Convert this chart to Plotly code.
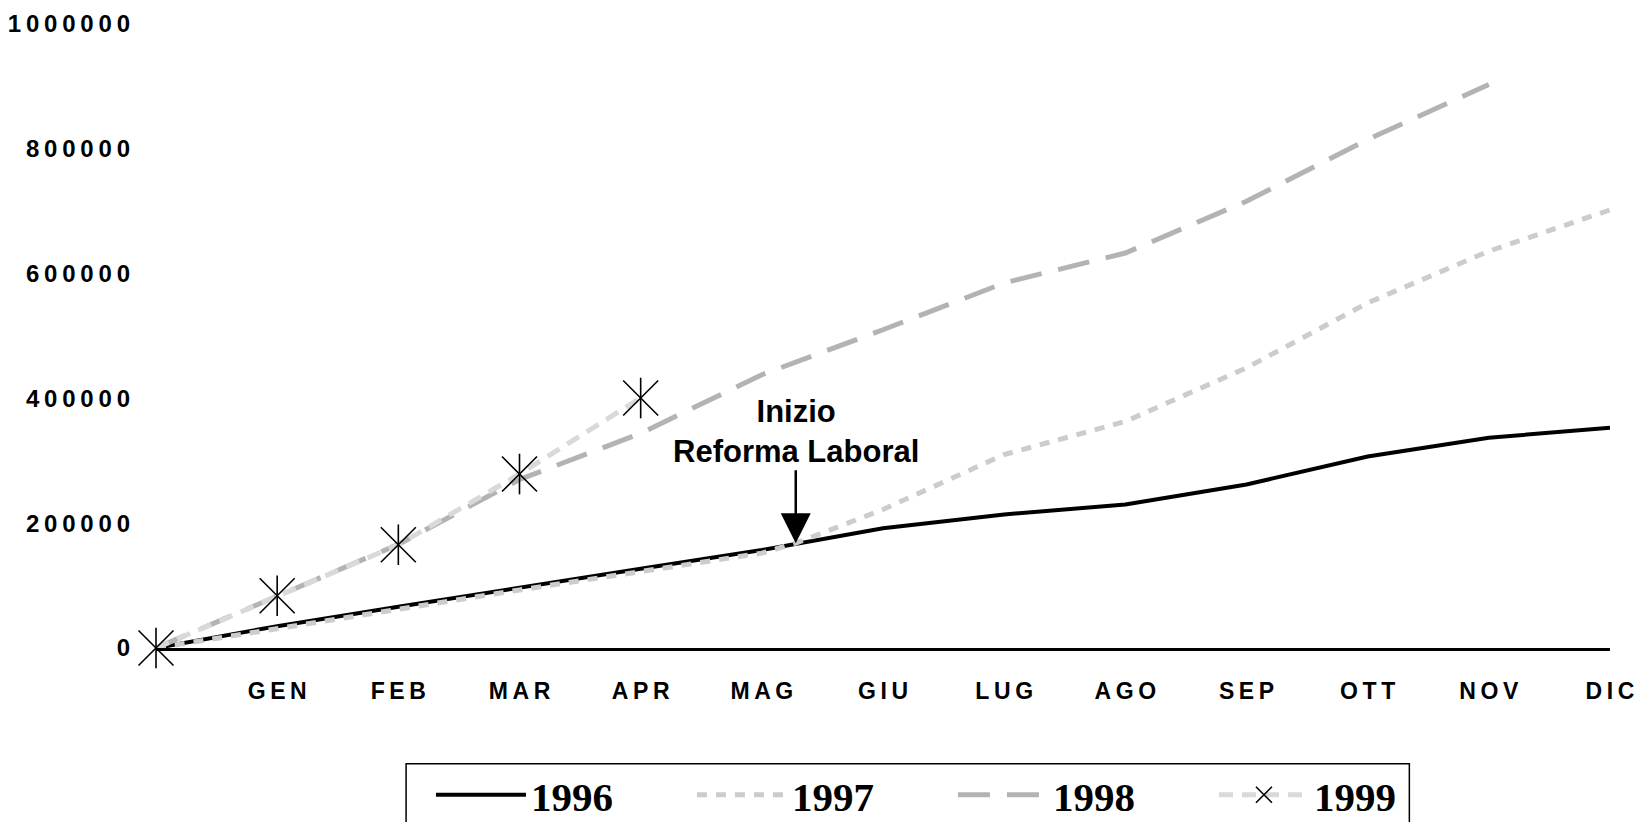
import plotly.graph_objects as go

# ---- data ----
month_labels = ["GEN", "FEB", "MAR", "APR", "MAG", "GIU", "LUG", "AGO", "SEP", "OTT", "NOV", "DIC"]
month_pos = [1, 2, 3, 4, 5, 6, 7, 8, 9, 10, 11, 12]

x1996 = [0, 1, 2, 3, 4, 5, 6, 7, 8, 9, 10, 11, 12]
v1996 = [0, 35000, 66000, 97000, 127000, 157000, 192000, 214000, 230000, 262000, 307000, 337000, 353000]

x1997 = [0, 1, 2, 3, 4, 5, 5.28, 6, 7, 8, 9, 10, 11, 12]
v1997 = [0, 32000, 62000, 93000, 123000, 152000, 168000, 222000, 310000, 363000, 449000, 553000, 636000, 702000]

x1998 = [0, 1, 2, 3, 4, 5, 6, 7, 8, 9, 10, 11]
v1998 = [0, 82000, 166000, 270000, 344000, 438000, 510000, 585000, 633000, 716000, 815000, 903000]

x1999 = [0, 1, 2, 3, 4]
v1999 = [0, 83800, 165500, 278800, 400600]

y_ticks = [0, 200000, 400000, 600000, 800000, 1000000]

reform_x = 5.28
reform_y = 168000

SP = "\u2009"


def spaced(s):
    return SP.join(list(s))


fig = go.Figure()
fig.add_trace(go.Scatter(x=x1996, y=v1996, name="1996", mode="lines",
                         line=dict(color="black", width=4), cliponaxis=False))
fig.add_trace(go.Scatter(x=x1997, y=v1997, name="1997", mode="lines",
                         line=dict(color="#cccccc", width=5, dash="10px,9px"), cliponaxis=False))
fig.add_trace(go.Scatter(x=x1998, y=v1998, name="1998", mode="lines",
                         line=dict(color="#b3b3b3", width=5, dash="32px,17px"), cliponaxis=False))
fig.add_trace(go.Scatter(x=x1999, y=v1999, name="1999", mode="lines+markers",
                         line=dict(color="#d9d9d9", width=5, dash="14px,9px"),
                         marker=dict(symbol="x-thin-open", size=35, color="black",
                                     line=dict(color="black", width=1.6)),
                         cliponaxis=False))
fig.add_trace(go.Scatter(x=x1999, y=v1999, name="1999", mode="markers", showlegend=False,
                         marker=dict(symbol="line-ns-open", size=29, color="black",
                                     line=dict(color="black", width=1.6)),
                         cliponaxis=False))

fig.add_annotation(x=reform_x, y=reform_y, text="Inizio<br>Reforma Laboral",
                   showarrow=True, arrowhead=2, arrowsize=2.4, arrowwidth=2.5, arrowcolor="black",
                   ax=0, ay=-112,
                   font=dict(family="Liberation Sans, Arial", size=31, color="black", weight="bold"))

# legend frame (layout decoration in paper coordinates)
fig.add_shape(type="rect", xref="paper", yref="paper", x0=0.172, x1=0.862, y0=-0.40, y1=-0.1854,
              line=dict(color="black", width=1.5), fillcolor="rgba(0,0,0,0)", layer="below")

fig.update_layout(
    width=1634, height=822,
    margin=dict(l=156, r=24, t=24, b=174, autoexpand=False),
    paper_bgcolor="white", plot_bgcolor="white",
    font=dict(family="Liberation Sans, Arial", color="black"),
    showlegend=True,
    legend=dict(orientation="h", x=0.1891, xanchor="left", y=-0.1820, yanchor="top",
                borderwidth=0, bgcolor="rgba(0,0,0,0)",
                font=dict(family="Liberation Serif, Times New Roman", size=41, color="black",
                          weight="bold"),
                itemwidth=90, entrywidth=156, entrywidthmode="pixels",
                traceorder="normal"),
    xaxis=dict(range=[0, 12], tickvals=month_pos, ticktext=[spaced(m) for m in month_labels],
               showgrid=False, zeroline=False, showline=True, linecolor="black", linewidth=3,
               ticks="", ticklabelstandoff=20, ticklabeloverflow="allow",
               tickfont=dict(family="Liberation Sans, Arial", size=23, color="black", weight="bold")),
    yaxis=dict(range=[0, 1000000], tickvals=y_ticks, ticktext=[spaced(str(v)) for v in y_ticks],
               showgrid=False, zeroline=False, showline=False, ticks="", ticklabelstandoff=25,
               ticklabeloverflow="allow",
               tickfont=dict(family="Liberation Sans, Arial", size=24, color="black", weight="bold")),
)

fig.write_html("out.html", config={"displayModeBar": False},
               post_script="document.body.style.margin='0';document.body.style.overflow='hidden';")
